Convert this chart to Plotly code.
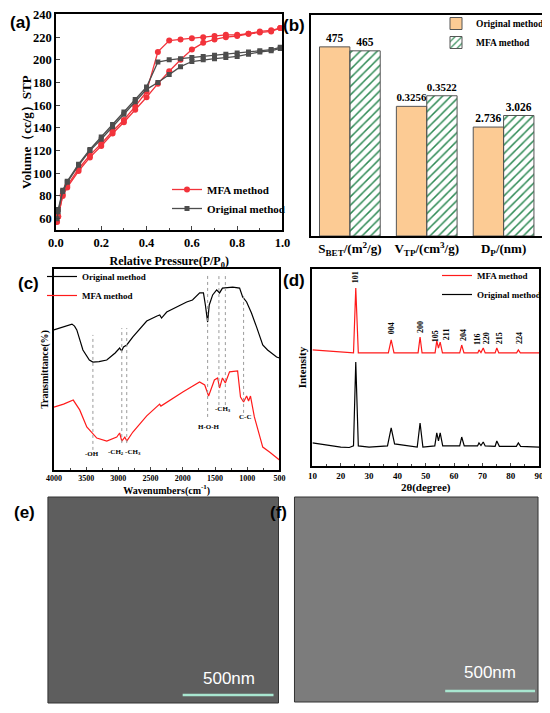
import plotly.graph_objects as go
from plotly.subplots import make_subplots

# the page puts the figure 8px in from the top-left corner
OFF = 8
W, H = 550 - OFF, 713 - OFF
SERIF = "Liberation Serif"
SANS = "Liberation Sans"
RED = "#F2333B"
GRAY = "#4D4D4D"

# (a) N2 adsorption-desorption isotherms
P_REL = [0.005, 0.01, 0.03, 0.05, 0.1, 0.15, 0.2, 0.25, 0.3, 0.35, 0.4, 0.45,
         0.5, 0.55, 0.6, 0.65, 0.7, 0.75, 0.8, 0.85, 0.9, 0.95, 0.99]
MFA_ADS = [57, 62, 80, 87.5, 102, 114, 124, 135, 145, 156, 167, 179,
           190, 200, 209, 215, 218, 220, 221, 223, 224, 225, 228]
MFA_DES = [62, 81, 89, 104, 116, 126, 137, 147, 159, 172, 207,
           217, 218, 219, 220, 221, 222, 222, 223, 225, 226, 228]
ORIG_ADS = [60, 66, 84, 92, 107, 120, 130, 141, 152, 163, 174, 180,
            187, 194, 198.5, 200, 201, 202, 203, 205, 207, 208, 210]
ORIG_DES = [68, 85, 93, 108, 121, 132, 143, 154, 165, 176, 198,
            200, 201, 202, 203, 204, 205, 206, 207, 208, 209, 211]
VOL_TICKS = [60, 80, 100, 120, 140, 160, 180, 200, 220, 240]

# (b) textural parameters
PARAMS = ["S<sub>BET</sub>/(m<sup>2</sup>/g)", "V<sub>TP</sub>/(cm<sup>3</sup>/g)", "D<sub>P</sub>/(nm)"]
ORIG_VALS = [475, 0.3256, 2.736]
MFA_VALS = [465, 0.3522, 3.026]
ORIG_TEXT = ["475", "0.3256", "2.736"]
MFA_TEXT = ["465", "0.3522", "3.026"]
BAR_SCALE = [1, 1000, 100]

# (c) FTIR spectra (arbitrary transmittance units)
WN_ORIG = [4000, 3850, 3720, 3680, 3645, 3550, 3450, 3395, 3300, 3180, 3050, 2980,
           2950, 2920, 2870, 2775, 2560, 2400, 2358, 2330, 2250, 1940, 1850, 1738,
           1680, 1650, 1615, 1590, 1537, 1475, 1430, 1385, 1227, 1119, 1072, 1010,
           935, 855, 760, 685, 545, 500]
T_ORIG = [69.7, 71.1, 72.6, 71.6, 69.7, 59.7, 54.7, 53.7, 53.9, 54.7, 58.2, 60.7,
          59.2, 61.2, 62.2, 66.2, 74.1, 76.6, 77.1, 75.6, 78.6, 83.6, 84.6, 88.1,
          88.1, 82.1, 73.6, 82.1, 87.1, 89.6, 88.1, 90.5, 91.0, 90.5, 86.1, 83.6,
          78.1, 71.1, 62.2, 59.7, 56.2, 55.7]
WN_MFA = [4000, 3850, 3700, 3600, 3490, 3335, 3180, 3025, 2980, 2947, 2900, 2870,
          2775, 2560, 2360, 2340, 2000, 1740, 1660, 1600, 1510, 1460, 1430, 1385,
          1340, 1275, 1150, 1105, 1057, 1010, 980, 950, 890, 760, 655, 500]
T_MFA = [31.3, 32.8, 34.8, 29.9, 21.4, 15.9, 14.4, 16.4, 18.4, 14.4, 16.4, 14.4,
         18.9, 26.9, 32.8, 31.8, 38.8, 43.8, 42.3, 36.8, 44.8, 45.8, 40.8, 45.8,
         43.3, 48.8, 49.3, 36.3, 33.8, 36.8, 34.3, 36.8, 26.4, 11.4, 9.0, 5.0]
BAND_WN = [3395, 2947, 2870, 1615, 1440, 1340, 1057]
BAND_TOP = [67.2, 70.6, 70.6, 98, 98, 98, 88]
BAND_BOTTOM = [10.0, 13.4, 13.4, 26.4, 32.3, 32.3, 28.4]
BAND_LABELS = ["-OH", "-CH<sub>2</sub> -CH<sub>3</sub>", "H-O-H", "-CH<sub>3</sub>", "C-C"]
BAND_LABEL_WN = [3411, 2900, 1600, 1382, 1041]
BAND_LABEL_T = [8.0, 9.0, 21.4, 30.3, 26.4]

# (d) XRD patterns (arbitrary intensity units)
TT_ORIG = [10, 15, 20, 23, 24.5, 25.3, 26.2, 30, 36.5, 37.8, 39, 47, 48, 49,
           53.2, 53.9, 54.5, 55.1, 56, 62, 62.7, 63.6, 68.3, 68.8, 69.5, 70.3, 71,
           74.5, 75.1, 76, 82, 82.7, 83.5, 90]
I_ORIG = [11.7, 10.7, 9.6, 9.4, 10.2, 52.8, 10.2, 9.6, 10.2, 19.3, 11.2, 9.6, 21.8, 9.6,
          10.2, 16.8, 12.7, 16.8, 10.2, 10.2, 14.7, 10.2, 10.2, 11.7, 10.4, 12.2, 10.2,
          10.0, 12.7, 10.0, 10.0, 11.7, 10.0, 9.6]
TT_MFA = [10, 20, 24.5, 25.3, 26.2, 30, 36.8, 37.8, 38.8, 47.3, 48, 48.7,
          53.3, 53.9, 54.5, 55.1, 55.9, 62, 62.7, 63.5, 68.4, 68.8, 69.5, 70.3, 71,
          74.5, 75.1, 75.8, 82.1, 82.7, 83.4, 90]
I_MFA = [58.9, 57.9, 57.4, 90.4, 57.4, 57.4, 57.4, 64.0, 57.4, 57.4, 65.5, 57.4,
         57.4, 63.5, 59.9, 62.9, 57.4, 57.4, 61.4, 57.4, 57.4, 58.9, 57.6, 59.9, 57.4,
         57.4, 59.9, 57.4, 57.4, 58.9, 57.4, 57.4]
HKL = ["101", "004", "200", "105", "211", "204", "116", "220", "215", "224"]
HKL_X = [25.5, 38.2, 48.4, 53.7, 57.2, 63.2, 68.5, 71.7, 76.3, 83.3]
HKL_Y = [96.0, 70.1, 70.6, 66.0, 67.0, 66.5, 64.5, 65.0, 65.0, 65.0]


def fx(x):
    # page pixel -> paper fraction
    return (x - OFF) / W


def fy(y):
    return 1 - (y - OFF) / H


def bold(size):
    return dict(family=SERIF, size=size, color="black", weight="bold")


def paper_text(text, x, y, font, angle=0):
    fig.add_annotation(x=fx(x), y=fy(y), xref="paper", yref="paper", text=text,
                       showarrow=False, xanchor="center", yanchor="middle",
                       textangle=angle, font=font)


fig = make_subplots(rows=2, cols=2)

# (a)
fig.add_trace(go.Scatter(x=P_REL, y=MFA_ADS, name="MFA method", legendgroup="mfa",
                         mode="lines+markers", line=dict(color=RED, width=1.3),
                         marker=dict(symbol="circle", size=6, color=RED),
                         legend="legend"), row=1, col=1)
fig.add_trace(go.Scatter(x=P_REL[1:], y=MFA_DES, name="MFA method", legendgroup="mfa",
                         showlegend=False, mode="lines+markers",
                         line=dict(color=RED, width=1.3),
                         marker=dict(symbol="circle", size=6, color=RED)), row=1, col=1)
fig.add_trace(go.Scatter(x=P_REL, y=ORIG_ADS, name="Original method", legendgroup="orig",
                         mode="lines+markers", line=dict(color=GRAY, width=1.3),
                         marker=dict(symbol="square", size=5, color=GRAY),
                         legend="legend"), row=1, col=1)
fig.add_trace(go.Scatter(x=P_REL[1:], y=ORIG_DES, name="Original method", legendgroup="orig",
                         showlegend=False, mode="lines+markers",
                         line=dict(color=GRAY, width=1.3),
                         marker=dict(symbol="square", size=5, color=GRAY)), row=1, col=1)

# (b)
orig_h = [v * s for v, s in zip(ORIG_VALS, BAR_SCALE)]
mfa_h = [v * s for v, s in zip(MFA_VALS, BAR_SCALE)]
fig.add_trace(go.Bar(x=PARAMS, y=orig_h, name="Original method", text=ORIG_TEXT,
                     textposition="outside", textfont=bold(11.5), cliponaxis=False,
                     marker=dict(color="#FCCB94", line=dict(color="#555555", width=1)),
                     legend="legend2"), row=1, col=2)
fig.add_trace(go.Bar(x=PARAMS, y=mfa_h, name="MFA method", text=MFA_TEXT,
                     textposition="outside", textfont=bold(11.5), cliponaxis=False,
                     marker=dict(color="#74D49C", line=dict(color="#555555", width=1),
                                 pattern=dict(shape="/", fgcolor="#2F8A55", size=6,
                                              solidity=0.25)),
                     legend="legend2"), row=1, col=2)

# (c)
fig.add_trace(go.Scatter(x=WN_ORIG, y=T_ORIG, name="Original method", mode="lines",
                         line=dict(color="black", width=1.2), legend="legend3"),
              row=2, col=1)
fig.add_trace(go.Scatter(x=WN_MFA, y=T_MFA, name="MFA method", mode="lines",
                         line=dict(color="#FF1A1A", width=1.2), legend="legend3"),
              row=2, col=1)

# (d)
fig.add_trace(go.Scatter(x=TT_MFA, y=I_MFA, name="MFA method", mode="lines",
                         line=dict(color="#FF1A1A", width=1.2), legend="legend4"),
              row=2, col=2)
fig.add_trace(go.Scatter(x=TT_ORIG, y=I_ORIG, name="Original method", mode="lines",
                         line=dict(color="black", width=1.2), legend="legend4"),
              row=2, col=2)

frame = dict(showline=True, linecolor="black", linewidth=1.5, mirror=True,
             showgrid=False, zeroline=False, automargin=False)

fig.update_xaxes(frame)
fig.update_yaxes(frame)

fig.update_xaxes(domain=[fx(56), fx(283)], range=[0, 1.0], dtick=0.2, tickformat=".1f",
                 ticks="inside", ticklen=4, minor=dict(ticks="inside", ticklen=2, dtick=0.1),
                 tickfont=bold(12.5),
                 title=dict(text="Relative Pressure(P/P<sub>0</sub>)", font=bold(12), standoff=8),
                 row=1, col=1)
fig.update_yaxes(domain=[fy(230), fy(14)], range=[50, 240.4], tickmode="array",
                 tickvals=VOL_TICKS, ticks="inside", ticklen=4, tickfont=bold(12.5),
                 ticklabeloverflow="allow", row=1, col=1)

fig.update_xaxes(domain=[fx(312), fx(543)], tickfont=bold(13), ticks="", tickangle=0,
                 row=1, col=2)
fig.update_yaxes(domain=[fy(236), fy(15)], range=[0, 555], showticklabels=False,
                 ticks="", row=1, col=2)

fig.update_xaxes(domain=[fx(54), fx(280)], range=[4000, 500], dtick=500, ticks="inside",
                 ticklen=3, minor=dict(ticks="inside", ticklen=2, dtick=250),
                 tickfont=bold(8),
                 title=dict(text="Wavenumbers(cm<sup>-1</sup>)", font=bold(10), standoff=1),
                 row=2, col=1)
fig.update_yaxes(domain=[fy(470), fy(269)], range=[0, 100], showticklabels=False,
                 ticks="", title=dict(text="Transmittance(%)", font=bold(10), standoff=2),
                 row=2, col=1)

fig.update_xaxes(domain=[fx(313), fx(540)], range=[10, 90], dtick=10, ticks="inside",
                 ticklen=3, minor=dict(ticks="inside", ticklen=2, dtick=5),
                 tickfont=bold(9),
                 title=dict(text="2θ(degree)", font=bold(11), standoff=1),
                 row=2, col=2)
fig.update_yaxes(domain=[fy(466), fy(269)], range=[0, 100], showticklabels=False,
                 ticks="", title=dict(text="Intensity", font=bold(11), standoff=2),
                 row=2, col=2)

# (a) y title, set a little below the axis centre as in the original
paper_text("Volume（cc/g）STP", 26, 132, bold(13), angle=-90)

# FTIR band guide lines
for wn, top, bottom in zip(BAND_WN, BAND_TOP, BAND_BOTTOM):
    fig.add_shape(type="line", x0=wn, x1=wn, y0=bottom, y1=top, xref="x3", yref="y3",
                  line=dict(color="#9A9A9A", width=1, dash="dot"))

for txt, wn, t in zip(BAND_LABELS, BAND_LABEL_WN, BAND_LABEL_T):
    fig.add_annotation(x=wn, y=t, xref="x3", yref="y3", text=txt, showarrow=False,
                       font=bold(7))

for txt, tt, i in zip(HKL, HKL_X, HKL_Y):
    fig.add_annotation(x=tt, y=i, xref="x4", yref="y4", text=txt, showarrow=False,
                       textangle=-90, font=bold(8))

# SEM micrographs (e) and (f): image areas with scale bars
fig.add_shape(type="rect", xref="paper", yref="paper", x0=fx(48), x1=fx(279),
              y0=fy(703), y1=fy(497), fillcolor="#5E5E5E", line=dict(color="#333333", width=1),
              layer="below")
fig.add_shape(type="rect", xref="paper", yref="paper", x0=fx(295), x1=fx(539),
              y0=fy(702), y1=fy(497), fillcolor="#7C7C7C", line=dict(color="#333333", width=1),
              layer="below")
fig.add_shape(type="line", xref="paper", yref="paper", x0=fx(183), x1=fx(274),
              y0=fy(695), y1=fy(695), line=dict(color="#A8E6D0", width=2.5))
fig.add_shape(type="line", xref="paper", yref="paper", x0=fx(446), x1=fx(536),
              y0=fy(691), y1=fy(691), line=dict(color="#A8E6D0", width=2.5))
paper_text("500nm", 229, 678, dict(family=SANS, size=17, color="white"))
paper_text("500nm", 491, 672, dict(family=SANS, size=17, color="white"))

# panel letters
for letter, x, y in [("(a)", 21, 22), ("(b)", 295, 25), ("(c)", 29, 283),
                     ("(d)", 295, 280), ("(e)", 25, 512), ("(f)", 279, 512)]:
    paper_text(letter, x, y, dict(family=SANS, size=17, color="black", weight="bold"))

fig.update_layout(
    template="none",
    width=W, height=H,
    margin=dict(l=0, r=0, t=0, b=0),
    paper_bgcolor="white", plot_bgcolor="white",
    barmode="group", bargap=0.21, bargroupgap=0,
    legend=dict(x=fx(167), y=fy(175), xanchor="left", yanchor="top", font=bold(11),
                bgcolor="rgba(0,0,0,0)", tracegroupgap=0),
    legend2=dict(x=fx(437), y=fy(9), xanchor="left", yanchor="top", font=bold(9.5),
                 bgcolor="rgba(0,0,0,0)"),
    legend3=dict(x=fx(42), y=fy(262), xanchor="left", yanchor="top", font=bold(9),
                 bgcolor="rgba(0,0,0,0)"),
    legend4=dict(x=fx(437), y=fy(261), xanchor="left", yanchor="top", font=bold(9),
                 bgcolor="rgba(0,0,0,0)"),
)

fig.write_html("out.html")
